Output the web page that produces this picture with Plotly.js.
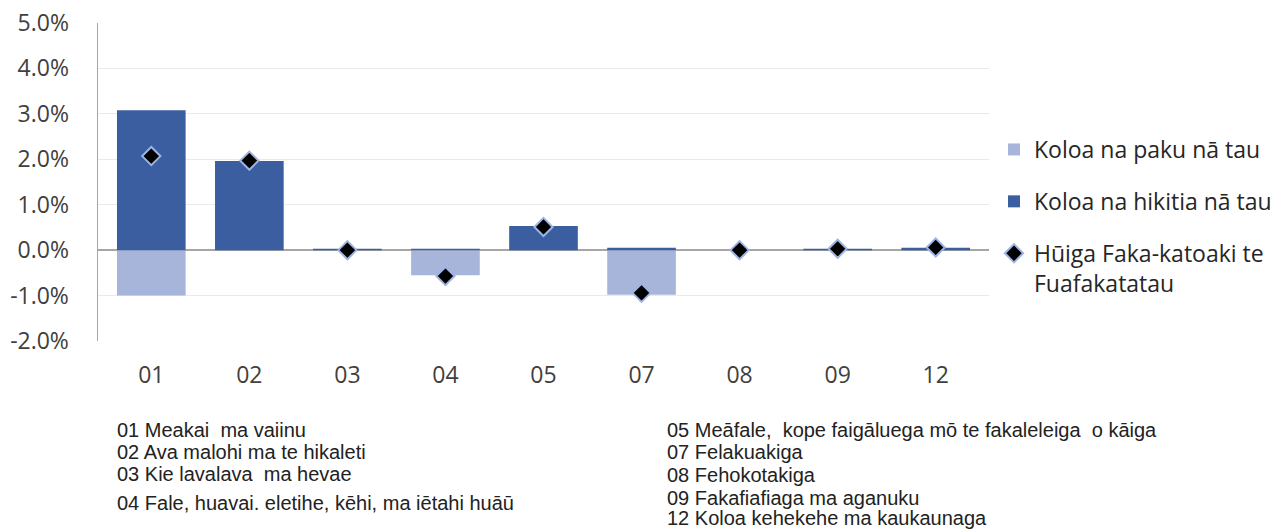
<!DOCTYPE html>
<html><head><meta charset="utf-8">
<script src="https://cdn.plot.ly/plotly-3.0.1.min.js"></script>
<style>html,body{margin:0;padding:0;background:#fff}#chart{width:1287px;height:530px}</style>
</head><body><div id="chart"></div>
<script>
const categories = ['01','02','03','04','05','07','08','09','12'];
const decreases = [-1.0, 0, 0, -0.55, 0, -0.98, 0, 0, 0];
const increases = [3.08, 1.96, 0.03, 0.03, 0.53, 0.05, 0, 0.03, 0.05];
const overall = [2.07, 1.97, 0.0, -0.57, 0.51, -0.94, 0.0, 0.03, 0.06];
const seriesNames = ['Koloa na paku nā tau', 'Koloa na hikitia nā tau', 'Hūiga Faka-katoaki te<br>Fuafakatatau'];
const yTicks = [-2, -1, 0, 1, 2, 3, 4, 5];
const yTickText = yTicks.map(v => v.toFixed(1) + '%');
const notesLeft = ['01 Meakai  ma vaiinu', '02 Ava malohi ma te hikaleti', '03 Kie lavalava  ma hevae', '04 Fale, huavai. eletihe, kēhi, ma iētahi huāū'];
const notesRight = ['05 Meāfale,  kope faigāluega mō te fakaleleiga  o kāiga', '07 Felakuakiga', '08 Fehokotakiga', '09 Fakafiafiaga ma aganuku', '12 Koloa kehekehe ma kaukaunaga'];

// layout geometry (pixels)
const M = {l: 98, r: 298, t: 23, b: 189};
const W = 1287, H = 530, PH = H - M.t - M.b, PW = W - M.l - M.r;
const py = y => (H - M.b - y) / PH;
const px = x => (x - M.l) / PW;
const leftY = [430, 452, 474, 503];
const rightY = [430, 452, 475, 498, 518];

const tickFont = {family: 'Open Sans, sans-serif', size: 23, color: '#404040'};
const noteFont = {family: 'Liberation Sans, Arial, sans-serif', size: 20, color: '#222222'};

const traces = [
  {type: 'bar', x: categories, y: decreases, name: seriesNames[0], legendgroup: 'a',
   marker: {color: '#A8B5DA'}, hoverinfo: 'x+y'},
  {type: 'bar', x: categories, y: increases, name: seriesNames[1], legendgroup: 'b',
   marker: {color: '#3A5EA0'}, hoverinfo: 'x+y'},
  {type: 'scatter', mode: 'markers', x: categories, y: overall, name: seriesNames[2], legendgroup: 'c',
   marker: {symbol: 'diamond', size: 14, color: '#000000', line: {color: '#9DB4E2', width: 2}}}
];

const annotations = [];
notesLeft.forEach((t, i) => annotations.push({text: t, x: px(115), y: py(leftY[i]), xref: 'paper', yref: 'paper',
  xanchor: 'left', yanchor: 'middle', showarrow: false, font: noteFont}));
notesRight.forEach((t, i) => annotations.push({text: t, x: px(665), y: py(rightY[i]), xref: 'paper', yref: 'paper',
  xanchor: 'left', yanchor: 'middle', showarrow: false, font: noteFont}));

const layout = {
  width: W, height: H,
  margin: M,
  paper_bgcolor: '#ffffff', plot_bgcolor: '#ffffff',
  barmode: 'relative',
  bargap: 0.3,
  showlegend: true,
  legend: {xref: 'container', yref: 'container', x: 994 / W, xanchor: 'left', y: 1 - 128 / H, yanchor: 'top',
    font: {family: 'Open Sans, sans-serif', size: 23, color: '#262626'},
    traceorder: 'grouped', tracegroupgap: 19, valign: 'top', bgcolor: 'rgba(0,0,0,0)'},
  xaxis: {type: 'category', tickfont: tickFont, ticks: 'outside', ticklen: 13,
    tickcolor: 'rgba(0,0,0,0)', showgrid: false, showline: false, zeroline: false},
  yaxis: {range: [-2, 5], tickvals: yTicks, ticktext: yTickText, tickfont: tickFont,
    ticks: 'outside', ticklen: 23, tickcolor: 'rgba(0,0,0,0)',
    showgrid: true, gridcolor: '#EAEAEA', gridwidth: 1,
    zeroline: true, zerolinecolor: '#A6A6A6', zerolinewidth: 2,
    showline: true, linecolor: '#A6A6A6', linewidth: 1.5},
  annotations: annotations
};

Plotly.newPlot('chart', traces, layout, {displayModeBar: false, staticPlot: true});
</script>
</body></html>
